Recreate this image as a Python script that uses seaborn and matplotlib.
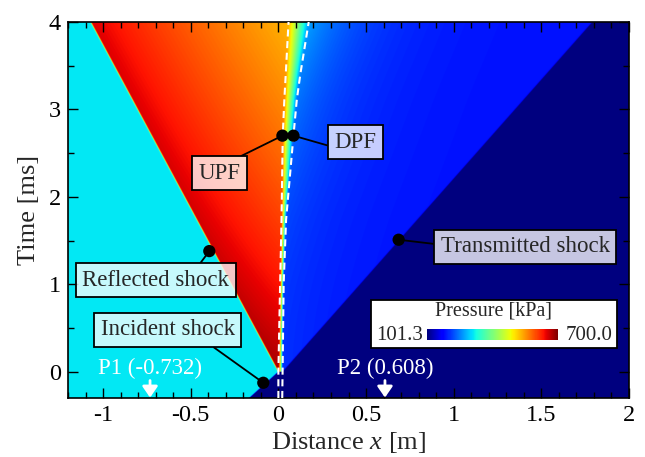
import numpy as np
import matplotlib
matplotlib.use("Agg")
import matplotlib.pyplot as plt
from matplotlib.patches import Rectangle
from matplotlib.cm import ScalarMappable
from matplotlib.colors import Normalize
import seaborn as sns

# ---- x-t diagram data -------------------------------------------------------
x_limits = [-1.2, 2.0]          # distance [m]
t_limits = [-0.3, 4.0]          # time [ms]

# wave / face trajectories, (time [ms], position [m])
incident_t = [-0.3, 0.0]
incident_x = [-0.166, 0.0]
reflected_t = [0.0, 4.0]
reflected_x = [0.0, -1.07]
transmitted_t = [0.0, 4.0]
transmitted_x = [0.024, 1.79]
upf_t = [-0.3, 0.0, 1.0, 1.74, 2.7, 3.11, 3.4, 4.0]
upf_x = [0.0, 0.0, 0.010, 0.018, 0.025, 0.034, 0.042, 0.058]
dpf_t = [-0.3, 0.0, 1.0, 1.74, 2.7, 3.11, 3.4, 4.0]
dpf_x = [0.022, 0.024, 0.030, 0.044, 0.086, 0.105, 0.125, 0.173]

# pressure levels [kPa]
p_min, p_max = 101.3, 700.0
p_ambient = 101.3
p_incident = 314.0
p_reflected_front = 650.0
p_reflected_early = 30.0        # extra pressure just after reflection
p_reflected_decay = 30.0        # kPa per ms at the upstream face
p_dpf_start, p_dpf_end = 205.0, 270.0
p_transmitted_far = 185.0

# gauge positions [m]
gauges = ["P1", "P2"]
gauge_x = [-0.732, 0.608]

# labelled points on the fronts
marker_x = [0.023, 0.086, -0.394, -0.086, 0.686]
marker_t = [2.70, 2.70, 1.38, -0.126, 1.51]

# ---- pressure field ---------------------------------------------------------
nx, nt = 1400, 900
xs = np.linspace(x_limits[0], x_limits[1], nx)
ts = np.linspace(t_limits[0], t_limits[1], nt)
X, T = np.meshgrid(xs, ts)
eps = 0.003


def step(z):
    return 0.5 * (1.0 + np.tanh(z / eps))


def track(tq, tp, xp):
    tp = np.asarray(tp); xp = np.asarray(xp)
    slope = (xp[-1] - xp[0]) / (tp[-1] - tp[0])
    return np.interp(tq, tp, xp) + np.where(tq < tp[0], (tq - tp[0]) * slope, 0.0)


x_i = track(T, incident_t, incident_x)
x_r = track(np.maximum(T, 0), reflected_t, reflected_x)
x_T = track(np.maximum(T, 0), transmitted_t, transmitted_x)
x_u = np.interp(T, upf_t, upf_x)
x_d = np.interp(T, dpf_t, dpf_x)
tp = np.maximum(T, 0.0)

# region behind the reflected shock
p_front = p_reflected_front + p_reflected_early * np.exp(-tp / 1.2)
s = np.clip((X - x_r) / np.maximum(x_u - x_r, 1e-6), 0, 1)
p_red = p_front - p_reflected_decay * tp * s ** 0.9
p_left_face = p_front - p_reflected_decay * tp

# gas downstream of the porous plate
p_dpf = p_dpf_start + (p_dpf_end - p_dpf_start) * (tp / 4.0) ** 2
dist = np.maximum(X - x_d, 0)
p_trans = p_transmitted_far + (p_dpf - p_transmitted_far) * np.exp(-dist / 0.32)

left = p_incident + (p_red - p_incident) * step(X - x_r)
right = p_trans + (p_ambient - p_trans) * step(X - x_T)
frac = np.clip((X - x_u) / np.maximum(x_d - x_u, 1e-6), 0, 1)
middle = p_left_face + (p_dpf - p_left_face) * frac

after = np.where(X < x_u, left, np.where(X > x_d, right, middle))
before = p_incident + (p_ambient - p_incident) * step(X - x_i)
field = np.where(T < 0, before, after)

# ---- figure -----------------------------------------------------------------
sns.set_theme(style="ticks")
plt.rcParams["font.family"] = ["Liberation Serif", "DejaVu Serif"]
plt.rcParams["mathtext.fontset"] = "custom"
plt.rcParams["mathtext.rm"] = "Liberation Serif"
plt.rcParams["mathtext.it"] = "Liberation Serif:italic"
plt.rcParams["axes.unicode_minus"] = False

fig = plt.figure(figsize=(6.45, 4.57), dpi=100)
ax = fig.add_axes([68 / 645, 1 - 398 / 457, 561 / 645, 376 / 457])

norm = Normalize(vmin=p_min, vmax=p_max)
ax.imshow(field, extent=[x_limits[0], x_limits[1], t_limits[0], t_limits[1]],
          origin="lower", cmap="jet", norm=norm, aspect="auto",
          interpolation="antialiased", zorder=0)

# porous plate faces
sns.lineplot(x=upf_x, y=upf_t, sort=False, estimator=None, color="white",
             lw=1.5, linestyle=(0, (3.4, 2.2)), ax=ax, zorder=3)
sns.lineplot(x=dpf_x, y=dpf_t, sort=False, estimator=None, color="white",
             lw=1.5, linestyle=(0, (3.4, 2.2)), ax=ax, zorder=3)

# callouts
box = dict(boxstyle="square,pad=0.28", fc=(1, 1, 1, 0.78), ec="black", lw=1.3)
callouts = [
    ("UPF", 0, (-0.337, 2.269), (0.69, 1.0)),
    ("DPF", 1, (0.44, 2.623), (0.0, 0.26)),
    ("Reflected shock", 2, (-0.70, 1.046), (0.77, 1.0)),
    ("Incident shock", 3, (-0.631, 0.48), (0.77, 0.0)),
    ("Transmitted shock", 4, (1.409, 1.429), (0.0, 0.6)),
]
for text, k, pos, rel in callouts:
    ax.annotate(text, xy=(marker_x[k], marker_t[k]), xytext=pos,
                ha="center", va="center", fontsize=16.5, bbox=box, zorder=6,
                arrowprops=dict(arrowstyle="-", color="black", lw=1.3,
                                shrinkA=0, shrinkB=0, relpos=rel))

sns.scatterplot(x=marker_x, y=marker_t, color="black", s=78, edgecolor="none",
                ax=ax, zorder=7)

# gauge positions
for name, gx in zip(gauges, gauge_x):
    ax.annotate("", xy=(gx, -0.295), xytext=(gx, -0.10),
                arrowprops=dict(arrowstyle="-|>,head_width=0.38,head_length=0.55",
                                color="white", lw=2.0, shrinkA=0, shrinkB=0),
                zorder=5)
    ax.text(gx, 0.034, f"{name} ({gx:.3f})", color="white", fontsize=16.5,
            ha="center", va="center", zorder=5)

# pressure legend
ax.add_patch(Rectangle((0.526, 0.274), 1.405, 0.549, fc="white", ec="black",
                       lw=1.3, zorder=8))
ax.text(1.229, 0.69, "Pressure [kPa]", fontsize=14.5, ha="center",
        va="center", zorder=9)
ax.text(0.689, 0.42, f"{p_min:.1f}", fontsize=15, ha="center", va="center",
        zorder=9)
ax.text(1.774, 0.42, f"{p_max:.1f}", fontsize=15, ha="center", va="center",
        zorder=9)
cax = fig.add_axes([427 / 645, 1 - 340 / 457, 131 / 645, 11 / 457])
cb = fig.colorbar(ScalarMappable(norm=norm, cmap="jet"), cax=cax,
                  orientation="horizontal")
cb.outline.set_visible(False)
cb.set_ticks([])

# axes
ax.set_xlim(x_limits)
ax.set_ylim(t_limits)
ax.set_xticks([-1, -0.5, 0, 0.5, 1, 1.5, 2])
ax.set_xticklabels(["-1", "-0.5", "0", "0.5", "1", "1.5", "2"])
ax.set_yticks([0, 1, 2, 3, 4])
ax.set_xticks(np.arange(-1.2, 2.01, 0.1), minor=True)
ax.set_yticks(np.arange(0, 4.01, 0.5), minor=True)
ax.tick_params(which="both", direction="in", top=True, right=True,
               colors="black", labelsize=17.5)
ax.tick_params(which="major", length=7, width=1.0, pad=5)
ax.tick_params(which="minor", length=4, width=1.0)
for sp in ax.spines.values():
    sp.set_color("black")
    sp.set_linewidth(1.2)
ax.set_xlabel("Distance $x$ [m]", fontsize=19, labelpad=3)
ax.set_ylabel("Time [ms]", fontsize=19, labelpad=6)

fig.savefig("out.png", dpi=100)
